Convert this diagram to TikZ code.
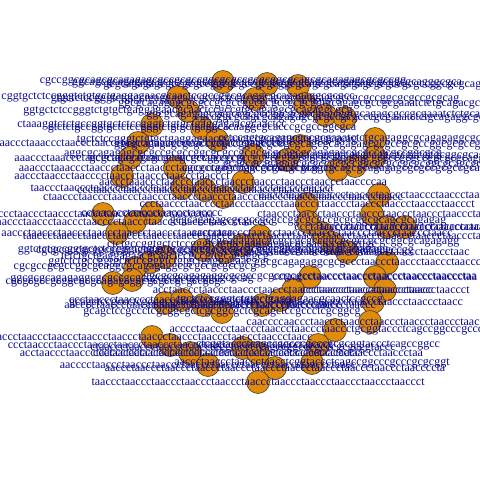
\documentclass[tikz,border=0pt]{standalone}
\usepackage{fontspec}
\setmainfont{Liberation Serif}
\definecolor{vfill}{RGB}{224,140,8}
\definecolor{vlab}{RGB}{10,10,140}
\def\vlist{%
1/223/82/cgccggcgcagcgcagagagcgccgcgccggcgcgccgcgcggcgcagcgcagagagcgcgccgg,
2/267/84/ggcagcgcagagagcgcgccgcgccggcgcgccgcgcggcgcagcgcagagagcgcggcgcagggcgca,
3/298/86/gcgcagagagcgccgcgccggcgcgccgcgcggcgcagcgcagagagcgcgccgcgccggcgcgcaggc,
4/178/97/cggtgctctccgggtctgtgctgaggagaacgcaactccgccggcgcaggcgcagagaggcgcgcc,
5/255/99/gtgctctccgggtctgtgctgaggagaacgcaactccgccgcagcgcagagagcgccgcgccggcgcgccgcgcag,
6/305/104/ggcgcagagagcgcgccgcgccggcgcgccgcgcggtgcagagcgccgcgaaatctctgcagacgcag,
7/188/111/ggtgctctccgggtctgtgctgaggagaacgcaactccgccgtgcagaggcgcagaggcgcg,
8/325/115/ggcgcagagagcgcgccgcgccggcgcgccgcgcggtgcagagcgccgcgaaatctctgcagagg,
9/345/118/cgccggcgcagcgcagagagcgcgccgcgcccgcgaaatctctgcagaggcgcag,
10/152/125/ctaaaggtctctgccggtgctctccgggtctgtgctgaggagaacgcaactcc,
11/202/128/gtctctgccggtgctctccgggtctgtgctgaggcacaaggcgcacccgcgccggcgca,
12/217/140/tgctctccgggtctgtgctgaggagaacgcaactccgccgttgcagaggcgcag,
13/375/139/cctccggtgcagagcgccgcgaaatctctgcagaggcgcagagaggcgcagagcgcag,
14/138/143/taaaccctaaaccctaaccctaaccctaaccctaacccctaaccctaaccctaacccta,
15/300/146/ggcgcagagagcgcgccgcgccggcgcgccgcgcagcgcagagagcgcgccgcgccggcgcgccgc,
16/130/158/aaaccctaaaccctaaccctaaccctaaccctaaccctaaccccta,
17/253/155/aggcgcagagagcgcgccgcgccggcgcgccgcgcgcgcagcgcagagagcgcgccgcgccggcgcg,
18/287/160/gcgcagagagcgcgccgcgccggcgcgccgcgcggcgcagcgcagagagcgcgccgcgccggcgcgcagg,
19/375/157/cgcagagagcgcgccgcgccggcgcgccgcgcggcgcag,
20/355/166/gcagcgcagagagcgcgccgcgccggcgcgccgcgcggcgcagcgca,
21/337/170/cgcgccgcgccggcgcgccgcgcggcgcagcgcagagagcgcgccgcgccgcagg,
22/122/176/aaccctaaccctaacccctaaccctaaccctaaccctaaccct,
23/175/168/aaaccctaaaccctaaccctaaccctaaccctaacccctaaccctaaccctaaccctaaccc,
24/243/182/aaccctaaaccctaaccctaaccctaaccctaaccctaaccctaaccctaaccccaa,
25/182/188/taaccctaaccctaaccctaaccctaaccctaaccctaaccctaaccctaaccctaaccct,
26/205/190/ccctaaccctaaccctaaccctaaccctaacccctaaccctaaccctaacc,
27/223/197/ctaaccctaaccctaaccctaaccctaaccctaaccctaaccctaaccctaaccctaaccctaaccctaacc,
28/379/195/aaccctaaccctaaccctaaccctaaccctaaccctaaccctaaccct,
29/307/204/ccctaaccctaacccctaaccctaaccctaaacccctaaccctaaccctaaccctaaccctaaccct,
30/103/214/cccctaaccctaaccctaaccctaacccctaaccctaaccctaa,
31/152/213/cctaacccctaaccctaaccctaacccc,
32/372/214/ctaaccctaaccctaaccctaaccctaaccctaaccctaaccctaa,
33/135/222/aaccctaaccctaaccctaacccctaaccctaaccctaaccctaaccctaacccc,
34/308/222/gcgcagagagcgcgccgcgccggcgcgccgcgcggcgcagcgcagagag,
35/117/233/aaccctaaccctaaccctaaccctaaccctaaccctaaccctaacc,
36/322/233/aaccctaaccctaaccctaaccctaaccctaaccctaaccctaaccctaacc,
37/387/227/ccctaaccctaaccctaaccctaaccctaaccctaac,
38/405/227/taaccctaaccctaaccctaaccctaaccctaac,
39/260/236/taaccctaaccctaaccctaaccctaaccctaaccctaaccctaaccctaaccctaaccctaaccctaaccctaaccctaaccctaaccctaacc,
40/332/243/gcgcagagagcgcgccgcgccggcgcgccgcgcggcgcagagagg,
41/347/252/ccctaaccctaaccctaaccctaaccctaaccctaaccctaaccctaac,
42/165/257/tctctgctgaggagaacgcaactccgccgttgcagaggcg,
43/150/262/ggtctctgccggtgctctccgggtctgtgctgaggagaac,
44/203/250/ggtctctgccggtgctctccgggtctgtgctgaggagaacgcaactccgccgttgcagaggcgcagagagg,
45/225/252/cgcgcgccgcggcgcgcagagaggcgcgccgcgccgcgcgcgcagcgcagagagcgcgccgcgccgg,
46/242/245/ctctgccggtgctctccgggtctgtgctgaggagaacgcaactccgccgttgc,
47/135/268/cgcgccgcgccggcgcaggcgcagagaggcgcgccgcgccgcg,
48/387/263/ggcgcagagaggcgcgccctaaccctaaccctaaccctaaccctaacccta,
49/113/283/cgcgcgccgcggcgcgcagagaggcgcgccgcgccgcg,
50/132/280/ggcgcgcagagaggcgcgccgcgccgcgcgccgcggcgcgcag,
51/310/277/ggcgcgcagagaggcgcgccgcgccgcgcctaaccctaaccctaaccctaaccctaaccctaa,
52/375/277/cctaaccctaaccctaaccctaaccctaaccctaaccctaa,
53/293/290/acctaaccctaaccctaaccctaaccctaaccctaaccctaaccctaaccctaacc,
54/385/290/ccctaaccctaaccctaaccctaaccctaaccct,
55/373/302/ctaaccctaaccctaaccctaaccctaaccctaacc,
56/165/303/gcagctccgccctcgcggcgctcgcggcgcagctcc,
57/182/300/ccctaaccctaacccctaaccctaaccctaaccctaaccctaacc,
58/203/305/aacccctaaccctaacccctaaccctaaccctaaccctaaccctaaccctaaccc,
59/222/312/gcagctccgccctcgcggcgctcgcggcgctcgcagctccgccctcgcggcg,
60/262/305/cctaacccctaaccccaaccctaaccctaaccctaaccctaaccc,
61/280/300/tgctctccgggtctgtgctgaggagaacgcaactccgccg,
62/370/322/caaccccaaccctaaccctaaccctaaccctaaccctaaccctaaccct,
63/335/330/acccctaacccctaaccctaaccctaaccctaaccctgcggtaccctcagccggcccgcccgcg,
64/152/337/aaccctaaccctaaccctaaccctaaccctaaccctaaccctaaccctaaccctaaccctaacc,
65/170/345/ccctaaccctaaccctaaccctaaccctaaccctaaccctaacccctaaccctaaccctaaccct,
66/190/353/acctaaccctaaccctaaccctaaccctaaccctaaccctaaccctaaccctaaccctaaccctaacc,
67/208/365/aacccctaaccctaaccctaaccctaaccctaaccctaaccctaaccctaaccctaacc,
68/243/348/ctaaccctaaccctaaccctaacctcggtaccctcagccggcccgcccgcgcggtaccc,
69/258/353/ccctaaccctaaccctaaccctaaccctaaccctaaccctaaccctaaccctaaccctaaccctaa,
70/318/345/ctcggtaccctcagccggcccgcccgcgcggtaccctcagccggcc,
71/312/363/aaccctaaccctaaccctaacctcggtaccctcagccggcccgcccgcgcggt,
72/275/368/aaccctaaccctaaccctaaccctaaccctaaccctaaccctaaccctaaccctaaccctaaccccta,
73/258/382/taaccctaaccctaaccctaaccctaaccctaaccctaaccctaaccctaaccctaaccctaaccct}
\begin{document}
\begin{tikzpicture}[x=1pt,y=-1pt,
  vtx/.style={circle,minimum size=23pt,inner sep=0pt,fill=vfill,draw=black!80,line width=0.55pt},
  vlbl/.style={text=vlab,inner sep=0pt,font=\fontsize{12}{12}\selectfont}]
\useasboundingbox (0,0) rectangle (480,480);
\clip (0,0) rectangle (480,480);
\foreach \n/\x/\y/\t in \vlist {\node[vtx] (v\n) at (\x,\y) {};}
\foreach \n/\x/\y/\t in \vlist {\node[vlbl] (l\n) at (v\n.center) {\t};}
\end{tikzpicture}
\end{document}
